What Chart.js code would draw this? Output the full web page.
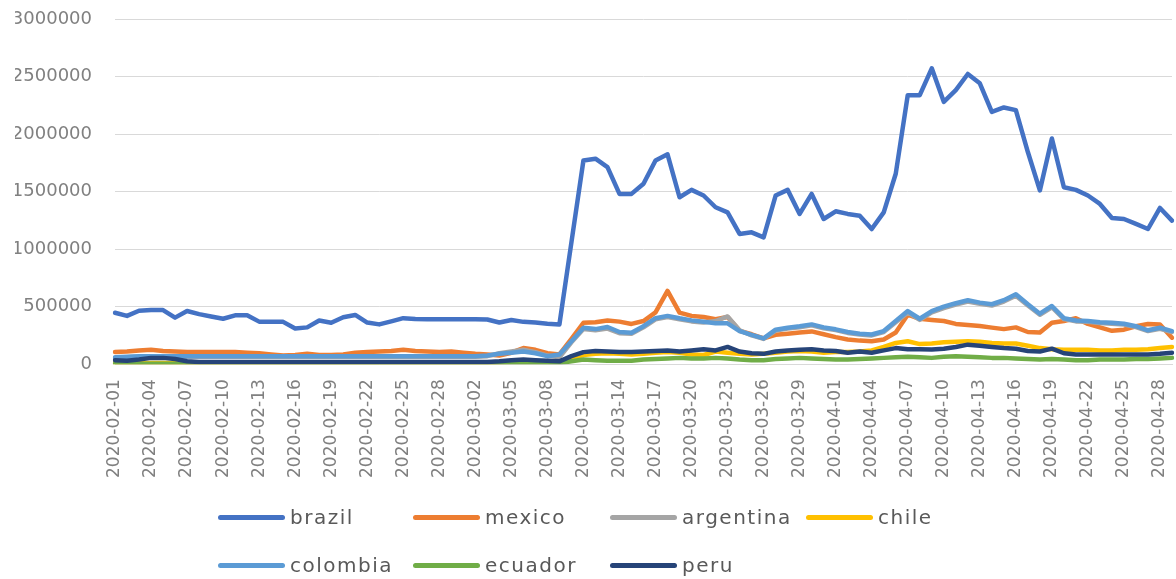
<!DOCTYPE html>
<html>
<head>
<meta charset="utf-8">
<script src="https://cdn.jsdelivr.net/npm/chart.js@4"></script>
<style>
  html, body { margin:0; padding:0; background:#fff; }
  #wrap { position:relative; width:1176px; height:579px; overflow:hidden; }
  #c { position:absolute; left:0; top:0; }
  .lg { position:absolute; display:flex; align-items:center; height:30px; font-family:"DejaVu Sans", sans-serif; font-size:20px; color:#595959; letter-spacing:1.5px; white-space:nowrap; }
  .lg span.ln { display:inline-block; width:67px; height:5px; border-radius:2.5px; margin-right:5px; }
</style>
</head>
<body>
<div id="wrap">
  <canvas id="c" width="1176" height="579"></canvas>
  <div id="legend"></div>
</div>
<script>
const dates = [
"2020-02-01","2020-02-02","2020-02-03","2020-02-04","2020-02-05","2020-02-06","2020-02-07","2020-02-08","2020-02-09","2020-02-10",
"2020-02-11","2020-02-12","2020-02-13","2020-02-14","2020-02-15","2020-02-16","2020-02-17","2020-02-18","2020-02-19","2020-02-20",
"2020-02-21","2020-02-22","2020-02-23","2020-02-24","2020-02-25","2020-02-26","2020-02-27","2020-02-28","2020-02-29",
"2020-03-01","2020-03-02","2020-03-03","2020-03-04","2020-03-05","2020-03-06","2020-03-07","2020-03-08","2020-03-09","2020-03-10",
"2020-03-11","2020-03-12","2020-03-13","2020-03-14","2020-03-15","2020-03-16","2020-03-17","2020-03-18","2020-03-19","2020-03-20",
"2020-03-21","2020-03-22","2020-03-23","2020-03-24","2020-03-25","2020-03-26","2020-03-27","2020-03-28","2020-03-29","2020-03-30","2020-03-31",
"2020-04-01","2020-04-02","2020-04-03","2020-04-04","2020-04-05","2020-04-06","2020-04-07","2020-04-08","2020-04-09","2020-04-10",
"2020-04-11","2020-04-12","2020-04-13","2020-04-14","2020-04-15","2020-04-16","2020-04-17","2020-04-18","2020-04-19","2020-04-20",
"2020-04-21","2020-04-22","2020-04-23","2020-04-24","2020-04-25","2020-04-26","2020-04-27","2020-04-28","2020-04-29"
];

const brazil = [447000,420000,465000,470000,470000,405000,462000,435000,415000,395000,
425000,425000,370000,370000,368000,310000,320000,380000,360000,408000,
428000,362000,346000,372000,400000,392000,390000,390000,390000,390000,
390000,388000,362000,384000,368000,362000,352000,346000,1060000,1771000,
1786000,1713000,1480000,1480000,1568000,1771000,1824000,1451000,1515000,1466000,
1364000,1320000,1132000,1146000,1102000,1466000,1515000,1306000,1480000,1262000,
1329000,1306000,1291000,1175000,1320000,1655000,2338000,2338000,2571000,2280000,
2382000,2522000,2441000,2193000,2231000,2208000,1844000,1510000,1961000,1538000,
1515000,1466000,1393000,1271000,1262000,1219000,1175000,1358000,1248000];

const mexico = [105000,110000,120000,125000,115000,110000,105000,105000,105000,105000,
105000,100000,95000,85000,75000,80000,90000,80000,80000,85000,
100000,105000,110000,115000,125000,115000,110000,105000,110000,100000,
90000,85000,75000,100000,140000,125000,95000,85000,220000,360000,
365000,380000,370000,350000,375000,450000,637000,448000,420000,410000,
390000,410000,290000,260000,225000,255000,265000,275000,285000,260000,
235000,215000,205000,200000,215000,275000,430000,395000,385000,375000,
350000,340000,332000,318000,305000,320000,280000,275000,360000,375000,
400000,350000,320000,290000,300000,330000,350000,345000,230000];

const argentina = [55000,60000,65000,65000,65000,65000,65000,65000,65000,65000,
65000,65000,65000,65000,65000,65000,65000,65000,65000,65000,
65000,65000,65000,65000,65000,65000,65000,65000,65000,65000,
65000,70000,95000,110000,125000,105000,75000,60000,190000,305000,
295000,310000,270000,265000,320000,390000,410000,390000,372000,362000,
375000,415000,295000,250000,220000,292000,310000,322000,338000,312000,
296000,272000,258000,250000,280000,365000,450000,385000,450000,488000,
518000,545000,525000,510000,545000,595000,510000,430000,495000,392000,
372000,368000,358000,352000,345000,322000,288000,308000,280000];

const chile = [10000,10000,10000,10000,10000,10000,10000,10000,10000,10000,
10000,10000,10000,10000,10000,10000,10000,10000,10000,10000,
10000,10000,10000,10000,10000,10000,10000,10000,10000,10000,
10000,10000,15000,20000,20000,20000,20000,20000,50000,80000,
90000,95000,90000,85000,90000,100000,105000,100000,85000,80000,
110000,100000,90000,85000,90000,100000,110000,115000,110000,100000,
105000,105000,110000,120000,150000,185000,200000,175000,180000,190000,
195000,200000,195000,185000,180000,180000,160000,140000,130000,125000,
125000,125000,120000,120000,125000,125000,130000,140000,150000];

const colombia = [60000,65000,70000,70000,70000,70000,70000,70000,70000,70000,
70000,70000,70000,70000,70000,70000,70000,70000,70000,70000,
70000,70000,70000,70000,70000,70000,70000,70000,70000,70000,
70000,75000,90000,100000,110000,95000,70000,85000,200000,317000,
305000,323000,280000,273000,330000,400000,420000,399000,381000,369000,
355000,355000,288000,255000,224000,300000,317000,330000,346000,320000,
303000,280000,265000,258000,288000,375000,462000,395000,462000,500000,
530000,556000,535000,521000,556000,608000,521000,439000,506000,400000,
380000,375000,365000,360000,352000,330000,295000,317000,288000];

const ecuador = [5000,5000,5000,5000,5000,5000,5000,5000,5000,5000,
5000,5000,5000,5000,5000,5000,5000,5000,5000,5000,
5000,5000,5000,5000,5000,5000,5000,5000,5000,5000,
5000,5000,8000,10000,10000,10000,10000,10000,25000,40000,
35000,30000,30000,30000,40000,45000,50000,55000,50000,50000,
55000,50000,40000,35000,35000,45000,50000,55000,50000,45000,
40000,40000,45000,50000,55000,60000,65000,60000,55000,65000,
70000,65000,60000,55000,55000,50000,45000,40000,45000,40000,
35000,35000,40000,40000,40000,45000,45000,50000,55000];

const peru = [35000,30000,40000,55000,55000,45000,25000,20000,20000,20000,
20000,20000,20000,20000,20000,20000,20000,20000,20000,20000,
20000,20000,20000,20000,20000,20000,20000,20000,20000,20000,
20000,20000,25000,35000,40000,35000,30000,25000,70000,105000,
115000,110000,105000,105000,110000,115000,120000,110000,120000,130000,
120000,150000,110000,95000,90000,110000,120000,125000,130000,120000,
115000,100000,110000,100000,120000,140000,130000,130000,128000,135000,
150000,170000,160000,150000,140000,135000,115000,110000,135000,95000,
85000,85000,85000,85000,85000,85000,85000,90000,100000];

const seriesNames = ["brazil","mexico","argentina","chile","colombia","ecuador","peru"];
const seriesData = [brazil, mexico, argentina, chile, colombia, ecuador, peru];
const seriesColors = ["#4472C4","#ED7D31","#A5A5A5","#FFC000","#5B9BD5","#70AD47","#264478"];

const datasets = seriesNames.map((n, k) => ({
  label: n,
  data: seriesData[k],
  borderColor: seriesColors[k],
  backgroundColor: seriesColors[k],
  borderWidth: 4.5,
  pointRadius: 0,
  tension: 0,
  fill: false,
  order: seriesNames.length - k
}));

const tickColor = "#808080";
const zeroPad = s => { s.paddingLeft = 0; s.paddingRight = 0; s.paddingTop = 0; s.paddingBottom = 0; };

new Chart(document.getElementById("c"), {
  type: "line",
  data: { labels: dates, datasets },
  options: {
    responsive: false,
    animation: false,
    devicePixelRatio: 1,
    layout: { padding: { left: 15, right: 4, top: 19, bottom: 86 } },
    plugins: { legend: { display: false }, tooltip: { enabled: false } },
    elements: { line: { borderJoinStyle: "round", borderCapStyle: "round" } },
    scales: {
      x: {
        afterFit: zeroPad,
        grid: { display: false, drawTicks: false },
        border: { display: true, color: "#d9d9d9" },
        ticks: {
          autoSkip: false, maxRotation: 90, minRotation: 90, padding: 15,
          color: tickColor, font: { family: "DejaVu Sans", size: 17 },
          callback: (v, i) => (i % 3 === 0 ? dates[i] : "")
        }
      },
      y: {
        afterFit: s => { zeroPad(s); s.width = 100; },
        min: 0, max: 3000000,
        grid: { color: "#d9d9d9", drawTicks: false },
        border: { display: false },
        ticks: {
          stepSize: 500000, padding: 23, color: tickColor, font: { family: "DejaVu Sans", size: 18 },
          callback: v => String(v)
        }
      }
    }
  }
});

const lg = document.getElementById("legend");
const colX = [218, 413, 610, 806];
const rowY = [502, 550];
seriesNames.forEach((n, k) => {
  const r = Math.floor(k / 4), c = k % 4;
  const d = document.createElement("div");
  d.className = "lg";
  d.style.left = colX[c] + "px";
  d.style.top = rowY[r] + "px";
  d.innerHTML = '<span class="ln" style="background:' + seriesColors[k] + '"></span>' + n;
  lg.appendChild(d);
});
</script>
</body>
</html>
